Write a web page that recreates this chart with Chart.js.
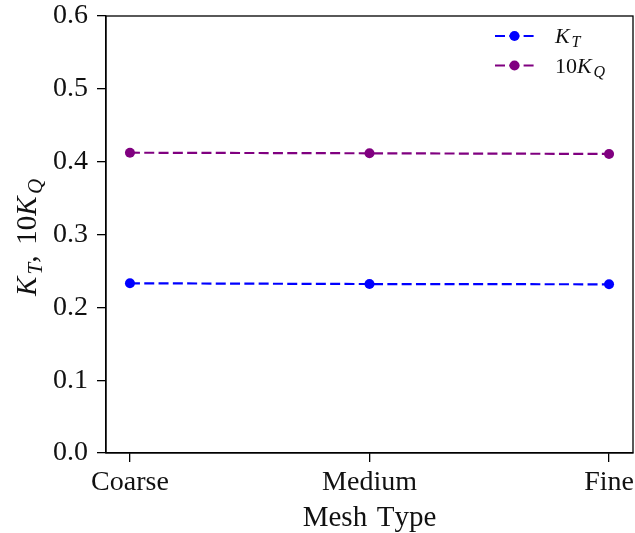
<!DOCTYPE html>
<html><head><meta charset="utf-8">
<script src="https://cdn.jsdelivr.net/npm/chart.js@4"></script>
<style>html,body{margin:0;padding:0;background:#fff;}#wrap{width:635px;height:533px;}</style>
</head><body><div id="wrap"><canvas id="c" width="635" height="533"></canvas></div>
<script>
const categories = ['Coarse', 'Medium', 'Fine'];
const seriesLabels = ['K_T', '10K_Q'];
const seriesColors = ['#0000ff', '#800080'];
const kT = [0.2330, 0.2320, 0.2316];
const kQ10 = [0.4123, 0.4115, 0.4106];
const yTickValues = [0.0, 0.1, 0.2, 0.3, 0.4, 0.5, 0.6];
const xTitle = 'Mesh Type';
const yTitle = 'K_T, 10K_Q';

const FONT = '"Liberation Serif", "Times New Roman", serif';
const DASH = [10, 4.3];

function drawMath(ctx, str, x, y, size, align, plain) {
  const segs = [];
  for (let i = 0; i < str.length; i++) {
    const ch = str[i];
    if (ch === '_') { segs.push({t: str[i + 1], sub: true, it: true}); i++; continue; }
    segs.push({t: ch, sub: false, it: !plain && /[A-Za-z]/.test(ch)});
  }
  const fontFor = s => (s.it ? 'italic ' : '') + (s.sub ? Math.round(size * 0.72) : size) + 'px ' + FONT;
  let w = 0;
  segs.forEach((s, k) => {
    ctx.font = fontFor(s);
    s.w = ctx.measureText(s.t).width;
    if (!plain && s.it && !s.sub) s.w += size * 0.08;
    if (!plain && s.t === ',') s.w += size * 0.12;
    if (plain && s.t === ' ') s.w += size * 0.08;
    w += s.w;
  });
  let cx = align === 'center' ? x - w / 2 : x;
  ctx.textAlign = 'left';
  ctx.textBaseline = 'alphabetic';
  segs.forEach(s => {
    ctx.font = fontFor(s);
    ctx.fillText(s.t, cx, y + (s.sub ? size * 0.2 : 0));
    cx += s.w;
  });
}

const decor = {
  id: 'decor',
  afterDraw(chart) {
    const ctx = chart.ctx, a = chart.chartArea;
    ctx.save();
    ctx.strokeStyle = '#000'; ctx.lineWidth = 1.3;
    ctx.strokeRect(a.left, a.top, a.right - a.left, a.bottom - a.top);
    ctx.fillStyle = '#111';
    drawMath(ctx, xTitle, (a.left + a.right) / 2, 526, 29, 'center', true);
    ctx.save();
    ctx.translate(36, (a.top + a.bottom) / 2 + 3);
    ctx.rotate(-Math.PI / 2);
    drawMath(ctx, yTitle, 0, 0, 29, 'center', false);
    ctx.restore();
    chart.data.datasets.forEach((ds, i) => {
      const yRow = 36 + i * 29.5;
      ctx.strokeStyle = ds.borderColor; ctx.lineWidth = 2.2;
      ctx.setLineDash(DASH);
      ctx.beginPath(); ctx.moveTo(495, yRow); ctx.lineTo(534, yRow); ctx.stroke();
      ctx.setLineDash([]);
      ctx.fillStyle = ds.borderColor;
      ctx.beginPath(); ctx.arc(514.5, yRow, 5, 0, Math.PI * 2); ctx.fill();
      ctx.fillStyle = '#111';
      drawMath(ctx, ds.label, 555, yRow + 7, 22, 'left', false);
    });
    ctx.restore();
  }
};

const seriesValues = [kT, kQ10];
const datasets = seriesValues.map((vals, i) => ({
  label: seriesLabels[i],
  data: vals.map((v, j) => ({x: j, y: v})),
  borderColor: seriesColors[i],
  backgroundColor: seriesColors[i],
  pointBackgroundColor: seriesColors[i],
  pointBorderWidth: 0,
  pointRadius: 5,
  borderWidth: 2.2,
  borderDash: DASH,
  tension: 0,
  fill: false
}));

new Chart(document.getElementById('c'), {
  type: 'line',
  data: {datasets},
  plugins: [decor],
  options: {
    responsive: false,
    animation: false,
    devicePixelRatio: 1,
    layout: {autoPadding: false, padding: {top: 16, right: 2, left: 0, bottom: 0}},
    plugins: {legend: {display: false}, tooltip: {enabled: false}},
    scales: {
      x: {
        type: 'linear',
        min: -0.1, max: categories.length - 1 + 0.1,
        afterBuildTicks: s => { s.ticks = categories.map((c, i) => ({value: i})); },
        afterFit: s => { s.height = 80; s.paddingLeft = 0; s.paddingRight = 0; },
        ticks: {
          callback: v => categories[v],
          font: {family: FONT, size: 28},
          color: '#111',
          padding: 4,
          maxRotation: 0,
          autoSkip: false
        },
        grid: {display: true, drawOnChartArea: false, drawTicks: true, tickLength: 9, color: '#000', lineWidth: 1.3},
        border: {display: true, color: '#000', width: 1.3}
      },
      y: {
        min: 0, max: 0.6,
        afterBuildTicks: s => { s.ticks = yTickValues.map(v => ({value: v})); },
        afterFit: s => { s.width = 106; s.paddingTop = 0; s.paddingBottom = 0; },
        ticks: {
          callback: v => Number(v).toFixed(1),
          font: {family: FONT, size: 28},
          color: '#111',
          padding: 9
        },
        grid: {display: true, drawOnChartArea: false, drawTicks: true, tickLength: 9, color: '#000', lineWidth: 1.3},
        border: {display: true, color: '#000', width: 1.3}
      }
    }
  }
});
</script></body></html>
